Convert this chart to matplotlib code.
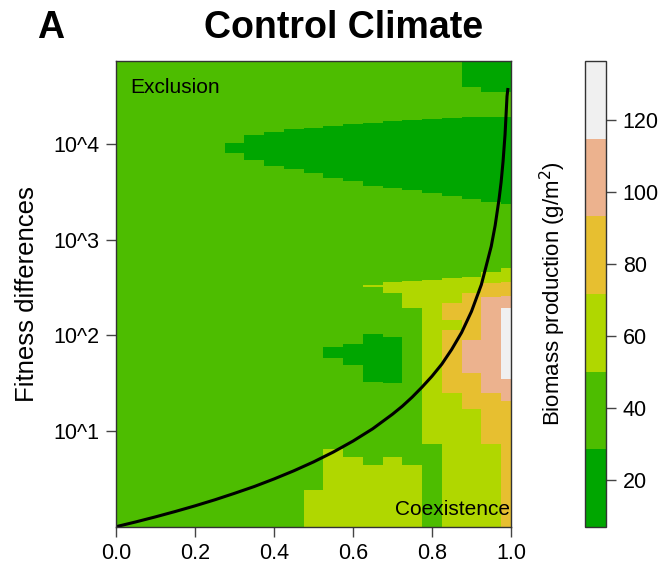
import numpy as np
import matplotlib.pyplot as plt
from matplotlib.colors import ListedColormap, BoundaryNorm
from matplotlib.cm import ScalarMappable

plt.rcParams['font.family'] = ['Liberation Sans', 'DejaVu Sans']

# niche difference grid (columns of the raster)
niche_diff = [0.0, 0.05, 0.1, 0.15, 0.2, 0.25, 0.3, 0.35, 0.4, 0.45, 0.5,
              0.55, 0.6, 0.65, 0.7, 0.75, 0.8, 0.85, 0.9, 0.95, 1.0]
log_fd_max = 4.87

# biomass classes (g/m2) and colours
levels = [7.1, 28.6, 50.2, 71.7, 93.3, 114.8, 136.4]
class_colors = ['#00A600', '#4DBD00', '#B0D700', '#E7BF30', '#ECB28E', '#F0F0F0']
background_biomass = 40

# zones: (niche difference, log10 FD low, log10 FD high)
dark_green_zones = [
    (0.30, 3.912, 4.016), (0.35, 3.832, 4.091), (0.40, 3.774, 4.130),
    (0.45, 3.738, 4.154), (0.50, 3.694, 4.171), (0.55, 3.652, 4.189),
    (0.60, 3.611, 4.206), (0.65, 3.566, 4.223), (0.70, 3.541, 4.241),
    (0.75, 3.520, 4.251), (0.80, 3.486, 4.265), (0.85, 3.462, 4.275),
    (0.90, 3.427, 4.282), (0.95, 3.393, 4.282), (1.00, 3.375, 4.286),
    (0.90, 4.594, 4.87), (0.95, 4.540, 4.87), (1.00, 4.540, 4.87),
    (0.55, 1.765, 1.876), (0.60, 1.697, 1.904), (0.65, 1.516, 2.008),
    (0.70, 1.506, 1.985),
]
yellow_zones = [
    (0.50, 0.0, 0.381), (0.55, 0.0, 0.814), (0.60, 0.0, 0.727),
    (0.65, 0.0, 0.641), (0.70, 0.0, 0.727), (0.75, 0.0, 0.641),
    (0.65, 2.503, 2.527), (0.70, 2.447, 2.562), (0.75, 2.285, 2.572),
    (0.80, 0.866, 2.579), (0.85, 0.0, 2.596), (0.90, 0.0, 2.614),
    (0.95, 0.0, 2.666), (1.00, 2.562, 2.700),
]
orange_zones = [
    (0.85, 2.164, 2.336), (0.85, 1.402, 2.053),
    (0.90, 1.229, 1.610), (0.90, 1.956, 2.440),
    (0.95, 0.866, 1.402), (0.95, 2.406, 2.551),
    (1.00, 0.0, 1.316), (1.00, 2.413, 2.562),
]
salmon_zones = [
    (0.90, 1.610, 1.956), (0.95, 1.402, 2.406),
    (1.00, 1.316, 1.541), (1.00, 2.285, 2.413),
]
white_zones = [(1.00, 1.541, 2.285)]
zone_biomass = [18, 61, 82, 104, 125]

# coexistence boundary
curve_x = [0.0, 0.05, 0.1, 0.15, 0.2, 0.25, 0.3, 0.35, 0.4, 0.45, 0.5, 0.55,
           0.6, 0.65, 0.7, 0.725, 0.75, 0.775, 0.8, 0.825, 0.85, 0.875, 0.9,
           0.925, 0.95, 0.96, 0.97, 0.975, 0.98, 0.985, 0.99, 0.992]
curve_log_fd = [0.0, 0.05, 0.103, 0.159, 0.218, 0.281, 0.349, 0.42, 0.499,
                0.584, 0.677, 0.78, 0.895, 1.024, 1.176, 1.26, 1.355, 1.46,
                1.573, 1.70, 1.854, 2.03, 2.25, 2.53, 2.93, 3.15, 3.43, 3.6,
                3.82, 4.1, 4.5, 4.57]

# build raster
row_edges = np.linspace(0, log_fd_max, 975)
row_mid = (row_edges[:-1] + row_edges[1:]) / 2
grid = np.full((len(row_mid), len(niche_diff)), float(background_biomass))
for zones, value in zip([dark_green_zones, yellow_zones, orange_zones,
                         salmon_zones, white_zones], zone_biomass):
    for x, lo, hi in zones:
        col = niche_diff.index(x)
        grid[(row_mid >= lo) & (row_mid < hi), col] = value

x_edges = [x - 0.025 for x in niche_diff] + [niche_diff[-1] + 0.025]

cmap = ListedColormap(class_colors)
norm = BoundaryNorm(levels, cmap.N)

fig = plt.figure(figsize=(6.6, 5.74), dpi=100)
ax = fig.add_axes([0.1758, 0.0824, 0.5984, 0.8108])
ax.pcolormesh(x_edges, 10 ** row_edges, grid, cmap=cmap, norm=norm,
              shading='flat', rasterized=True)
ax.plot(curve_x, 10 ** np.array(curve_log_fd), color='black', lw=2.2)

ax.set_yscale('log')
ax.set_xlim(0, 1)
ax.set_ylim(1, 10 ** 4.865)
ax.set_xticks([0.0, 0.2, 0.4, 0.6, 0.8, 1.0])
ax.set_xticklabels(['0.0', '0.2', '0.4', '0.6', '0.8', '1.0'])
ax.set_yticks([10, 100, 1000, 10000])
ax.set_yticklabels(['10^1', '10^2', '10^3', '10^4'])
ax.yaxis.set_minor_locator(plt.NullLocator())
ax.tick_params(labelsize=15.5, length=7, width=1, color='#444444', pad=5)
for s in ax.spines.values():
    s.set_color('#333333')
    s.set_linewidth(1)
ax.set_ylabel('Fitness differences', fontsize=18.5, labelpad=10)

ax.text(0.035, 0.943, 'Exclusion', transform=ax.transAxes, fontsize=15,
        ha='left', va='center')
ax.text(0.997, 0.036, 'Coexistence', transform=ax.transAxes, fontsize=15,
        ha='right', va='center')

fig.text(0.521, 0.952, 'Control Climate', fontsize=27, fontweight='bold',
         ha='center', va='center')
fig.text(0.076, 0.952, 'A', fontsize=27, fontweight='bold',
         ha='center', va='center')

cax = fig.add_axes([0.8864, 0.0824, 0.0318, 0.8108])
sm = ScalarMappable(norm=norm, cmap=cmap)
cb = fig.colorbar(sm, cax=cax, ticks=[20, 40, 60, 80, 100, 120])
cb.minorticks_off()
cb.outline.set_linewidth(1)
cb.outline.set_edgecolor('#333333')
cax.tick_params(labelsize=15.5, length=7, width=1, color='#444444', pad=5)
cax.yaxis.set_ticks_position('right')
cax.set_ylabel('Biomass production (g/m$^2$)', fontsize=16, labelpad=12)
cax.yaxis.set_label_position('left')

fig.savefig('out.png', dpi=100)
